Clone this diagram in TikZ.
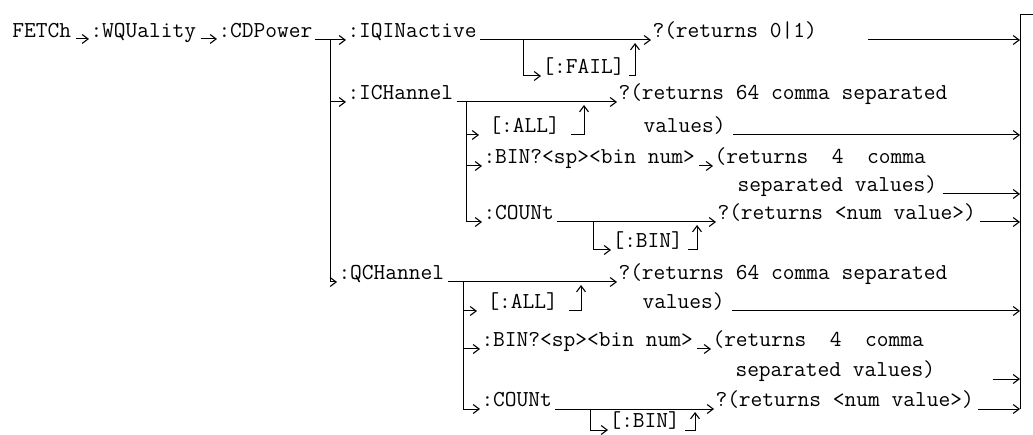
\documentclass[tikz,border=0pt]{standalone}
\usepackage{fontspec}
\usetikzlibrary{arrows.meta}
\begin{document}
\begin{tikzpicture}[x=1pt,y=-1pt,line width=1pt,
  tip/.style={-{Straight Barb[length=6pt,width=9pt,line width=1.1pt]}},
  txt/.style={anchor=south west,inner xsep=1pt,inner ysep=2pt,text depth=0pt,
    font=\ttfamily\fontsize{22.8}{26}\selectfont}]
\useasboundingbox[fill=white] (0,0) rectangle (1033,435);
% ---------- text nodes ----------
\node[txt] (fetch) at (11,40) {FETCh};
\node[txt] (wq) at (89,40) {:WQUality};
\node[txt] (cdp) at (217,40) {:CDPower};
\node[txt] (iqi) at (346,40) {:IQINactive};
\node[txt] (r01) at (651,40) {?(returns 0|1)};
\node[txt] (fail) at (541,76) {[:FAIL]};
% ICHannel block
\node[txt] (ich) at (346,102) {:ICHannel};
\node[txt] (r64a) at (617,102) {?(returns 64 comma separated};
\node[txt] (alla) at (488,135) {[:ALL]};
\node[txt] (vala) at (642,135) {values)};
\node[txt] (bina) at (482,166) {:BIN?<sp><bin num>};
\node[txt] (r4a) at (713,166) {(returns~~4~~comma};
\node[txt] (sepa) at (736,194) {separated values)};
\node[txt] (cnta) at (482,222) {:COUNt};
\node[txt] (rnuma) at (716,222) {?(returns <num value>)};
\node[txt] (bbina) at (611,250) {[:BIN]};
% QCHannel block
\node[txt] (qch) at (337,282) {:QCHannel};
\node[txt] (r64b) at (617,282) {?(returns 64 comma separated};
\node[txt] (allb) at (486,311) {[:ALL]};
\node[txt] (valb) at (641,311) {values)};
\node[txt] (binb) at (480,349) {:BIN?<sp><bin num>};
\node[txt] (r4b) at (711,349) {(returns~~4~~comma};
\node[txt] (sepb) at (734,379) {separated values)};
\node[txt] (cntb) at (480,409) {:COUNt};
\node[txt] (rnumb) at (714,409) {?(returns <num value>)};
\node[txt] (bbinb) at (608,430) {[:BIN]};
% ---------- junction coordinates ----------
\coordinate (v1) at (330,40);
\coordinate (failv) at (523,40);
\coordinate (failup) at (635,40);
\coordinate (v2) at (466,102);
\coordinate (allupa) at (584,102);
\coordinate (bbva) at (593,222);
\coordinate (bbupa) at (697,222);
\coordinate (v3) at (463,282);
\coordinate (allupb) at (581,282);
\coordinate (bbvb) at (590,409);
\coordinate (bbupb) at (695,409);
\coordinate (bartop) at (1020,15);
\coordinate (barbot) at (1020,409);
\coordinate (exit) at (1042,15);
% ---------- row 1 ----------
\draw[tip] ([xshift=3pt,yshift=1pt]fetch.south east) -- ([yshift=1pt]wq.south west);
\draw[tip] ([xshift=3pt,yshift=1pt]wq.south east) -- ([yshift=1pt]cdp.south west);
\draw ([xshift=1pt]cdp.south east) -- (v1);
\draw[tip] (v1) -- (iqi.south west);
\draw[tip] ([xshift=2pt]iqi.south east) -- (r01.south west);
\draw[tip] (failv) |- (fail.south west);
\draw[tip] ([xshift=3pt]fail.south east) -| ([yshift=-3pt]failup);
\draw[tip] ([xshift=50pt]r01.south east) -- (bartop |- r01.south east);
% ---------- main vertical ----------
\draw[tip] (v1) |- (qch.south west);
\draw[tip] (v1 |- ich.south west) -- (ich.south west);
% ---------- ICHannel block ----------
\draw[tip] ([xshift=2pt]ich.south east) -- (r64a.south west);
\draw[tip] (v2) |- (cnta.south west);
\draw[tip] (v2 |- alla.south west) -- ([xshift=-9pt]alla.south west);
\draw[tip] ([xshift=10pt]alla.south east) -| ([yshift=-3pt]allupa);
\draw[tip] ([xshift=6pt]vala.south east) -- (bartop |- vala.south east);
\draw[tip] (v2 |- bina.south west) -- (bina.south west);
\draw[tip] ([xshift=3pt]bina.south east) -- (r4a.south west);
\draw[tip] ([xshift=4pt]sepa.south east) -- (bartop |- sepa.south east);
\draw[tip] ([xshift=2pt]cnta.south east) -- (rnuma.south west);
\draw[tip] (bbva) |- (bbina.south west);
\draw[tip] ([xshift=4pt]bbina.south east) -| ([yshift=-3pt]bbupa);
\draw[tip] ([xshift=3pt]rnuma.south east) -- (bartop |- rnuma.south east);
% ---------- QCHannel block ----------
\draw[tip] ([xshift=2pt]qch.south east) -- (r64b.south west);
\draw[tip] (v3) |- (cntb.south west);
\draw[tip] (v3 |- allb.south west) -- ([xshift=-9pt]allb.south west);
\draw[tip] ([xshift=10pt]allb.south east) -| ([yshift=-3pt]allupb);
\draw[tip] ([xshift=6pt]valb.south east) -- (bartop |- valb.south east);
\draw[tip] (v3 |- binb.south west) -- (binb.south west);
\draw[tip] ([xshift=3pt]binb.south east) -- (r4b.south west);
\draw[tip] ([xshift=56pt]sepb.south east) -- (bartop |- sepb.south east);
\draw[tip] ([xshift=2pt]cntb.south east) -- (rnumb.south west);
\draw[tip] (bbvb) |- (bbinb.south west);
\draw[tip] ([xshift=4pt]bbinb.south east) -| ([yshift=-3pt]bbupb);
\draw[tip] ([xshift=3pt]rnumb.south east) -- (bartop |- rnumb.south east);
% ---------- right bar ----------
\draw (barbot) -- (bartop);
\draw[tip] (bartop) -- (exit);
\end{tikzpicture}
\end{document}
